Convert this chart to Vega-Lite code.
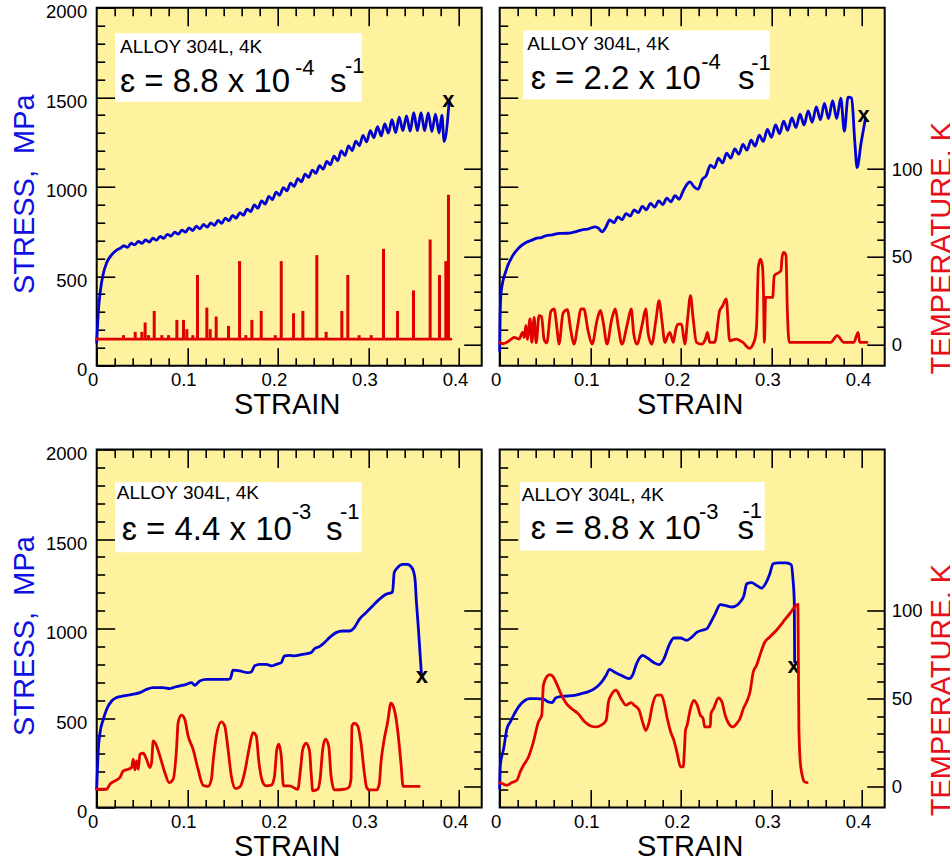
{
  "$schema": "https://vega.github.io/schema/vega-lite/v6.json",
  "autosize": {"type": "none"},
  "padding": {"left": 96.7, "top": 7.7, "right": 853.3, "bottom": 855.3},
  "background": "white",
  "config": {
    "font": "Liberation Sans",
    "view": {"fill": "#fef29e", "stroke": "black", "strokeWidth": 2},
    "axis": {"grid": false, "domain": false, "ticks": true, "tickColor": "black", "tickWidth": 1.6, "labelFont": "Liberation Sans", "labelFontSize": 18.5, "labelColor": "black", "labelFlush": false, "labelOverlap": false, "titleFont": "Liberation Sans", "titleFontSize": 29, "titleFontWeight": "normal", "titleColor": "black"},
    "line": {"strokeWidth": 2.8, "strokeJoin": "round", "strokeCap": "round", "interpolate": "monotone"},
    "text": {"font": "Liberation Sans"}
  },
  "columns": 2,
  "spacing": {"row": 22.8, "column": 5},
  "align": "each",
  "datasets": {
    "sA": [{"s":0,"v":130},{"s":0.002,"v":315},{"s":0.004,"v":417},{"s":0.0075,"v":519},{"s":0.011,"v":575},{"s":0.0167,"v":621},{"s":0.022,"v":646},{"s":0.026,"v":656},{"s":0.030,"v":670},{"s":0.034,"v":661},{"s":0.038,"v":684},{"s":0.042,"v":675},{"s":0.046,"v":695},{"s":0.050,"v":683},{"s":0.054,"v":703},{"s":0.058,"v":691},{"s":0.062,"v":712},{"s":0.066,"v":701},{"s":0.070,"v":722},{"s":0.074,"v":712},{"s":0.078,"v":734},{"s":0.082,"v":724},{"s":0.086,"v":746},{"s":0.090,"v":735},{"s":0.094,"v":757},{"s":0.098,"v":747},{"s":0.102,"v":770},{"s":0.106,"v":755},{"s":0.110,"v":779},{"s":0.114,"v":764},{"s":0.118,"v":789},{"s":0.122,"v":774},{"s":0.126,"v":798},{"s":0.130,"v":784},{"s":0.134,"v":812},{"s":0.138,"v":795},{"s":0.142,"v":825},{"s":0.146,"v":809},{"s":0.150,"v":840},{"s":0.154,"v":824},{"s":0.158,"v":855},{"s":0.162,"v":841},{"s":0.166,"v":875},{"s":0.170,"v":861},{"s":0.174,"v":898},{"s":0.178,"v":880},{"s":0.182,"v":921},{"s":0.186,"v":903},{"s":0.190,"v":946},{"s":0.194,"v":928},{"s":0.198,"v":970},{"s":0.202,"v":952},{"s":0.206,"v":995},{"s":0.210,"v":977},{"s":0.214,"v":1020},{"s":0.218,"v":1002},{"s":0.222,"v":1045},{"s":0.226,"v":1027},{"s":0.230,"v":1070},{"s":0.234,"v":1052},{"s":0.238,"v":1093},{"s":0.242,"v":1075},{"s":0.246,"v":1117},{"s":0.250,"v":1098},{"s":0.254,"v":1141},{"s":0.258,"v":1123},{"s":0.262,"v":1171},{"s":0.266,"v":1145},{"s":0.270,"v":1200},{"s":0.274,"v":1174},{"s":0.278,"v":1228},{"s":0.282,"v":1202},{"s":0.286,"v":1255},{"s":0.290,"v":1229},{"s":0.294,"v":1287},{"s":0.298,"v":1250},{"s":0.302,"v":1313},{"s":0.306,"v":1274},{"s":0.310,"v":1336},{"s":0.314,"v":1284},{"s":0.318,"v":1351},{"s":0.322,"v":1299},{"s":0.326,"v":1375},{"s":0.330,"v":1302},{"s":0.334,"v":1388},{"s":0.338,"v":1313},{"s":0.342,"v":1396},{"s":0.346,"v":1310},{"s":0.350,"v":1413},{"s":0.354,"v":1313},{"s":0.358,"v":1413},{"s":0.362,"v":1313},{"s":0.366,"v":1412},{"s":0.370,"v":1308},{"s":0.374,"v":1405},{"s":0.378,"v":1300},{"s":0.381,"v":1400},{"s":0.3836,"v":1252},{"s":0.3892,"v":1484}],
    "tA": [{"s":0,"v":3.1},{"s":0.3909,"v":3.1}],
    "kA": [{"s":0.0296,"v":5.4},{"s":0.0425,"v":7.3},{"s":0.0499,"v":7.3},{"s":0.0535,"v":12.6},{"s":0.0572,"v":5.4},{"s":0.0635,"v":19.2},{"s":0.0719,"v":5.4},{"s":0.0793,"v":5.4},{"s":0.0885,"v":14.1},{"s":0.0958,"v":14.1},{"s":0.0995,"v":8.8},{"s":0.1061,"v":5.4},{"s":0.1113,"v":39.7},{"s":0.1216,"v":21.1},{"s":0.1253,"v":8.8},{"s":0.1319,"v":16.0},{"s":0.1455,"v":10.7},{"s":0.1577,"v":47.6},{"s":0.1646,"v":5.4},{"s":0.1713,"v":14.1},{"s":0.1816,"v":19.2},{"s":0.1971,"v":5.4},{"s":0.2037,"v":47.6},{"s":0.2173,"v":17.9},{"s":0.2276,"v":19.2},{"s":0.2430,"v":51.0},{"s":0.2533,"v":7.3},{"s":0.2706,"v":19.2},{"s":0.2772,"v":39.7},{"s":0.2897,"v":5.4},{"s":0.3030,"v":5.4},{"s":0.3166,"v":54.6},{"s":0.3321,"v":19.2},{"s":0.3497,"v":30.9},{"s":0.3681,"v":59.9},{"s":0.3784,"v":39.7},{"s":0.3854,"v":47.6},{"s":0.3883,"v":85.4}],
    "sB": [{"s":0,"v":84},{"s":0.0004,"v":260},{"s":0.0015,"v":409},{"s":0.0069,"v":530},{"s":0.0143,"v":614},{"s":0.0216,"v":660},{"s":0.029,"v":688},{"s":0.035,"v":700},{"s":0.040,"v":711},{"s":0.046,"v":716},{"s":0.051,"v":726},{"s":0.058,"v":731},{"s":0.066,"v":739},{"s":0.073,"v":740},{"s":0.080,"v":744},{"s":0.086,"v":752},{"s":0.091,"v":759},{"s":0.097,"v":763},{"s":0.1057,"v":776},{"s":0.109,"v":768},{"s":0.113,"v":748},{"s":0.117,"v":772},{"s":0.1215,"v":814},{"s":0.126,"v":799},{"s":0.1305,"v":831},{"s":0.135,"v":816},{"s":0.1395,"v":850},{"s":0.144,"v":836},{"s":0.1485,"v":870},{"s":0.153,"v":855},{"s":0.1575,"v":890},{"s":0.162,"v":871},{"s":0.1665,"v":907},{"s":0.171,"v":886},{"s":0.1755,"v":921},{"s":0.180,"v":900},{"s":0.1845,"v":936},{"s":0.189,"v":915},{"s":0.1935,"v":950},{"s":0.198,"v":930},{"s":0.2025,"v":976},{"s":0.207,"v":1015},{"s":0.2099,"v":1027},{"s":0.2145,"v":1000},{"s":0.219,"v":986},{"s":0.2235,"v":1040},{"s":0.228,"v":1062},{"s":0.2325,"v":1120},{"s":0.237,"v":1106},{"s":0.2415,"v":1159},{"s":0.246,"v":1133},{"s":0.2505,"v":1187},{"s":0.255,"v":1160},{"s":0.2595,"v":1211},{"s":0.264,"v":1182},{"s":0.2685,"v":1236},{"s":0.273,"v":1204},{"s":0.2775,"v":1260},{"s":0.282,"v":1227},{"s":0.2865,"v":1288},{"s":0.291,"v":1253},{"s":0.2955,"v":1320},{"s":0.300,"v":1276},{"s":0.3045,"v":1345},{"s":0.309,"v":1297},{"s":0.3135,"v":1366},{"s":0.318,"v":1315},{"s":0.3225,"v":1385},{"s":0.327,"v":1330},{"s":0.3315,"v":1405},{"s":0.336,"v":1345},{"s":0.3405,"v":1424},{"s":0.345,"v":1360},{"s":0.3495,"v":1446},{"s":0.354,"v":1374},{"s":0.3585,"v":1465},{"s":0.363,"v":1380},{"s":0.3675,"v":1481},{"s":0.372,"v":1380},{"s":0.3765,"v":1495},{"s":0.3805,"v":1310},{"s":0.3845,"v":1500},{"s":0.3885,"v":1495},{"s":0.392,"v":1250},{"s":0.3945,"v":1107},{"s":0.399,"v":1247},{"s":0.4036,"v":1377}],
    "tB": [{"s":0,"v":1.3},{"s":0.0033,"v":0.5},{"s":0.0106,"v":2.2},{"s":0.0161,"v":4.1},{"s":0.0216,"v":3.2},{"s":0.0252,"v":7.0},{"s":0.0271,"v":4.1},{"s":0.0289,"v":11},{"s":0.0305,"v":3},{"s":0.0335,"v":14.6},{"s":0.0355,"v":1.3},{"s":0.038,"v":15.5},{"s":0.0402,"v":1.0},{"s":0.0435,"v":16.5},{"s":0.0462,"v":16},{"s":0.049,"v":3},{"s":0.052,"v":1.0},{"s":0.0565,"v":19},{"s":0.06,"v":20.3},{"s":0.0635,"v":8},{"s":0.0654,"v":0.3},{"s":0.070,"v":18},{"s":0.0746,"v":20},{"s":0.0785,"v":8},{"s":0.0819,"v":0.3},{"s":0.0865,"v":12},{"s":0.0895,"v":20.3},{"s":0.0929,"v":20.3},{"s":0.0975,"v":8},{"s":0.102,"v":0.3},{"s":0.1075,"v":14},{"s":0.1112,"v":19.5},{"s":0.1145,"v":12},{"s":0.1185,"v":0.3},{"s":0.1235,"v":14},{"s":0.1276,"v":20.3},{"s":0.131,"v":10},{"s":0.1349,"v":0.3},{"s":0.141,"v":12},{"s":0.1452,"v":20.3},{"s":0.148,"v":6},{"s":0.1514,"v":0.3},{"s":0.1575,"v":12},{"s":0.1612,"v":20.3},{"s":0.164,"v":6},{"s":0.1678,"v":0.3},{"s":0.1725,"v":14},{"s":0.1759,"v":25},{"s":0.179,"v":14},{"s":0.1824,"v":1.3},{"s":0.1855,"v":5},{"s":0.1879,"v":7.0},{"s":0.1916,"v":1.3},{"s":0.1945,"v":9},{"s":0.1971,"v":11.7},{"s":0.2007,"v":11.7},{"s":0.2044,"v":0.3},{"s":0.2075,"v":15},{"s":0.2106,"v":27.9},{"s":0.2135,"v":15},{"s":0.2172,"v":1.3},{"s":0.2227,"v":0.3},{"s":0.227,"v":3},{"s":0.2293,"v":7.0},{"s":0.2318,"v":1.3},{"s":0.2373,"v":1.3},{"s":0.2428,"v":19.3},{"s":0.246,"v":22},{"s":0.2501,"v":26},{"s":0.2538,"v":2.2},{"s":0.2611,"v":3.2},{"s":0.2684,"v":1.3},{"s":0.2757,"v":-2.1},{"s":0.2812,"v":2.2},{"s":0.2835,"v":10},{"s":0.2855,"v":44},{"s":0.2878,"v":48.7},{"s":0.290,"v":45},{"s":0.2912,"v":30},{"s":0.2922,"v":1.3},{"s":0.2935,"v":26.9},{"s":0.3013,"v":26.9},{"s":0.3031,"v":39.2},{"s":0.3104,"v":42.1},{"s":0.3118,"v":50},{"s":0.3135,"v":52.5},{"s":0.316,"v":51},{"s":0.3175,"v":20},{"s":0.3196,"v":1.3},{"s":0.3653,"v":1.3},{"s":0.3726,"v":5.1},{"s":0.3799,"v":1.3},{"s":0.3909,"v":1.3},{"s":0.3956,"v":7.0},{"s":0.3974,"v":1.3},{"s":0.4055,"v":1.3}],
    "sC": [{"s":0,"v":102},{"s":0.0018,"v":326},{"s":0.0037,"v":419},{"s":0.0073,"v":493},{"s":0.011,"v":549},{"s":0.0165,"v":595},{"s":0.022,"v":614},{"s":0.0294,"v":623},{"s":0.0404,"v":633},{"s":0.0477,"v":642},{"s":0.055,"v":660},{"s":0.0624,"v":670},{"s":0.0734,"v":670},{"s":0.0807,"v":664},{"s":0.0844,"v":670},{"s":0.0917,"v":679},{"s":0.0991,"v":688},{"s":0.1046,"v":698},{"s":0.1083,"v":683},{"s":0.1138,"v":707},{"s":0.1211,"v":716},{"s":0.145,"v":716},{"s":0.1475,"v":720},{"s":0.1505,"v":768},{"s":0.1578,"v":763},{"s":0.167,"v":753},{"s":0.1706,"v":757},{"s":0.1743,"v":791},{"s":0.1798,"v":800},{"s":0.1872,"v":800},{"s":0.1927,"v":791},{"s":0.1982,"v":800},{"s":0.2037,"v":809},{"s":0.2073,"v":847},{"s":0.2128,"v":850},{"s":0.2183,"v":847},{"s":0.2257,"v":854},{"s":0.2367,"v":865},{"s":0.2404,"v":887},{"s":0.2459,"v":899},{"s":0.2514,"v":921},{"s":0.2569,"v":949},{"s":0.2642,"v":977},{"s":0.2716,"v":986},{"s":0.2789,"v":986},{"s":0.2844,"v":1005},{"s":0.2899,"v":1051},{"s":0.2972,"v":1088},{"s":0.3046,"v":1126},{"s":0.3119,"v":1163},{"s":0.3193,"v":1191},{"s":0.3266,"v":1204},{"s":0.3284,"v":1312},{"s":0.3321,"v":1340},{"s":0.3376,"v":1358},{"s":0.3431,"v":1358},{"s":0.3479,"v":1340},{"s":0.3512,"v":1284},{"s":0.353,"v":1144},{"s":0.3552,"v":995},{"s":0.3571,"v":847},{"s":0.3585,"v":744}],
    "tC": [{"s":0,"v":-1.6},{"s":0.011,"v":-1.6},{"s":0.0147,"v":1.3},{"s":0.0202,"v":3.2},{"s":0.0257,"v":5.1},{"s":0.0294,"v":8.9},{"s":0.0349,"v":9.8},{"s":0.0385,"v":10.8},{"s":0.0404,"v":15.5},{"s":0.0422,"v":9.4},{"s":0.044,"v":14.6},{"s":0.0459,"v":9.8},{"s":0.0477,"v":18.4},{"s":0.0514,"v":18.9},{"s":0.055,"v":15.5},{"s":0.0587,"v":10.8},{"s":0.0606,"v":13.6},{"s":0.0624,"v":26.0},{"s":0.0653,"v":24.1},{"s":0.0697,"v":17.4},{"s":0.0752,"v":7.9},{"s":0.08,"v":2.2},{"s":0.0844,"v":4.1},{"s":0.0881,"v":21.2},{"s":0.0899,"v":36.4},{"s":0.0936,"v":40.6},{"s":0.0972,"v":38.3},{"s":0.1009,"v":28.8},{"s":0.1064,"v":21.2},{"s":0.1119,"v":9.8},{"s":0.1174,"v":0.7},{"s":0.1229,"v":0.0},{"s":0.1266,"v":4.1},{"s":0.1284,"v":13.6},{"s":0.1321,"v":28.8},{"s":0.1376,"v":36.8},{"s":0.1413,"v":34.5},{"s":0.145,"v":21.2},{"s":0.1486,"v":6.0},{"s":0.1534,"v":-1.2},{"s":0.1585,"v":0.0},{"s":0.1633,"v":7.9},{"s":0.1681,"v":21.2},{"s":0.1725,"v":30.7},{"s":0.1761,"v":28.8},{"s":0.1791,"v":13.6},{"s":0.1835,"v":2.2},{"s":0.1872,"v":0.3},{"s":0.1927,"v":0.7},{"s":0.1963,"v":6.0},{"s":0.1989,"v":21.2},{"s":0.2011,"v":24.1},{"s":0.2037,"v":17.4},{"s":0.2062,"v":0.3},{"s":0.2128,"v":0.3},{"s":0.222,"v":-1.6},{"s":0.225,"v":9.8},{"s":0.2275,"v":21.2},{"s":0.2312,"v":24.6},{"s":0.2349,"v":20.3},{"s":0.2367,"v":7.9},{"s":0.2385,"v":-2.5},{"s":0.244,"v":-1.6},{"s":0.2466,"v":4.1},{"s":0.2495,"v":21.2},{"s":0.2525,"v":26.9},{"s":0.2561,"v":23.1},{"s":0.2587,"v":6.0},{"s":0.2624,"v":-2.0},{"s":0.2734,"v":-1.6},{"s":0.2782,"v":-0.6},{"s":0.2807,"v":4.1},{"s":0.2818,"v":34.5},{"s":0.2844,"v":36.0},{"s":0.2881,"v":34.5},{"s":0.2917,"v":25.0},{"s":0.2954,"v":7.9},{"s":0.298,"v":-0.6},{"s":0.3009,"v":-2.0},{"s":0.309,"v":-2.0},{"s":0.3119,"v":1.3},{"s":0.3138,"v":13.6},{"s":0.3174,"v":26.9},{"s":0.3211,"v":36.4},{"s":0.3248,"v":47.4},{"s":0.3284,"v":44.0},{"s":0.3321,"v":32.6},{"s":0.3358,"v":13.6},{"s":0.3383,"v":0.0},{"s":0.356,"v":0.0}],
    "sD": [{"s":0,"v":106},{"s":0.0007,"v":236},{"s":0.0044,"v":329},{"s":0.008,"v":441},{"s":0.0117,"v":478},{"s":0.0153,"v":515},{"s":0.0208,"v":562},{"s":0.0281,"v":599},{"s":0.0336,"v":608},{"s":0.0409,"v":608},{"s":0.0482,"v":605},{"s":0.0536,"v":590},{"s":0.058,"v":586},{"s":0.0617,"v":612},{"s":0.0682,"v":621},{"s":0.0755,"v":623},{"s":0.0828,"v":627},{"s":0.0901,"v":636},{"s":0.0974,"v":646},{"s":0.1047,"v":664},{"s":0.112,"v":698},{"s":0.1175,"v":739},{"s":0.1212,"v":772},{"s":0.1266,"v":757},{"s":0.1339,"v":739},{"s":0.1431,"v":720},{"s":0.1467,"v":739},{"s":0.1504,"v":794},{"s":0.154,"v":832},{"s":0.1577,"v":850},{"s":0.1631,"v":835},{"s":0.1704,"v":809},{"s":0.1759,"v":798},{"s":0.1814,"v":832},{"s":0.1869,"v":906},{"s":0.1923,"v":947},{"s":0.1996,"v":947},{"s":0.2062,"v":934},{"s":0.2124,"v":953},{"s":0.2179,"v":980},{"s":0.2234,"v":990},{"s":0.2288,"v":999},{"s":0.2332,"v":1036},{"s":0.238,"v":1083},{"s":0.2434,"v":1133},{"s":0.2507,"v":1126},{"s":0.2562,"v":1120},{"s":0.2617,"v":1129},{"s":0.2661,"v":1152},{"s":0.2697,"v":1185},{"s":0.2726,"v":1250},{"s":0.2781,"v":1256},{"s":0.2836,"v":1241},{"s":0.2891,"v":1226},{"s":0.2945,"v":1260},{"s":0.2982,"v":1306},{"s":0.3018,"v":1362},{"s":0.3073,"v":1367},{"s":0.3164,"v":1367},{"s":0.3219,"v":1356},{"s":0.3237,"v":1278},{"s":0.3252,"v":1148},{"s":0.3256,"v":813}],
    "tD": [{"s":0,"v":2.2},{"s":0.0026,"v":1.7},{"s":0.008,"v":0.7},{"s":0.0135,"v":2.2},{"s":0.019,"v":3.6},{"s":0.0226,"v":8.3},{"s":0.0263,"v":12.1},{"s":0.0318,"v":16.8},{"s":0.0372,"v":25.4},{"s":0.0427,"v":36.8},{"s":0.0464,"v":40.6},{"s":0.0482,"v":57.6},{"s":0.0518,"v":62.4},{"s":0.0555,"v":63.7},{"s":0.0591,"v":62.4},{"s":0.0628,"v":58.6},{"s":0.0682,"v":52.0},{"s":0.0737,"v":47.2},{"s":0.0792,"v":44.4},{"s":0.0865,"v":41.5},{"s":0.0938,"v":36.8},{"s":0.1011,"v":34.3},{"s":0.1066,"v":33.9},{"s":0.112,"v":34.9},{"s":0.1175,"v":37.7},{"s":0.1201,"v":48.2},{"s":0.123,"v":52.0},{"s":0.1285,"v":54.8},{"s":0.1339,"v":50.1},{"s":0.1394,"v":46.3},{"s":0.1449,"v":47.8},{"s":0.1485,"v":46.3},{"s":0.154,"v":43.4},{"s":0.1577,"v":36.8},{"s":0.1613,"v":32.0},{"s":0.165,"v":36.8},{"s":0.1686,"v":46.3},{"s":0.1734,"v":52.0},{"s":0.1785,"v":52.0},{"s":0.1821,"v":46.3},{"s":0.185,"v":38.7},{"s":0.1887,"v":31.1},{"s":0.1923,"v":26.3},{"s":0.196,"v":18.7},{"s":0.1996,"v":11.2},{"s":0.2026,"v":11.2},{"s":0.204,"v":21.6},{"s":0.2051,"v":32.0},{"s":0.2069,"v":34.9},{"s":0.2106,"v":44.4},{"s":0.2142,"v":49.1},{"s":0.2179,"v":46.6},{"s":0.2215,"v":40.6},{"s":0.2245,"v":38.7},{"s":0.2263,"v":33.9},{"s":0.2325,"v":33.9},{"s":0.2332,"v":41.5},{"s":0.2361,"v":44.4},{"s":0.2416,"v":50.4},{"s":0.2453,"v":48.2},{"s":0.2489,"v":40.6},{"s":0.2526,"v":36.0},{"s":0.2573,"v":33.9},{"s":0.2617,"v":35.9},{"s":0.2653,"v":38.7},{"s":0.269,"v":44.4},{"s":0.2726,"v":48.2},{"s":0.2763,"v":53.8},{"s":0.2799,"v":65.2},{"s":0.2836,"v":69.0},{"s":0.2872,"v":74.7},{"s":0.2927,"v":82.3},{"s":0.2982,"v":85.2},{"s":0.3055,"v":89.0},{"s":0.3128,"v":93.7},{"s":0.3201,"v":98.4},{"s":0.3292,"v":103.8},{"s":0.3297,"v":70.9},{"s":0.3303,"v":33.0},{"s":0.3318,"v":14.0},{"s":0.3339,"v":6.4},{"s":0.3365,"v":2.6},{"s":0.3394,"v":2.2}]
  },
  "concat": [
    {
      "width": 385, "height": 358,
      "resolve": {"scale": {"y": "independent"}, "axis": {"x": "independent", "y": "independent"}},
      "layer": [
        {
          "resolve": {"axis": {"x": "independent", "y": "independent"}},
          "layer": [
            {"data": {"name": "sA"}, "mark": {"type": "line", "color": "#0000d4"},
             "encoding": {
               "x": {"field": "s", "type": "quantitative", "scale": {"domain": [0, 0.425], "nice": false, "zero": false}, "axis": {"orient": "bottom", "values": [0, 0.1, 0.2, 0.3, 0.4], "format": "~g", "tickSize": -18, "labelPadding": 23, "labelOffset": -4, "title": "STRAIN", "titlePadding": 1, "titleX": 190}},
               "y": {"field": "v", "type": "quantitative", "scale": {"domain": [0, 2000], "nice": false, "zero": false}, "axis": {"orient": "left", "values": [0, 500, 1000, 1500, 2000], "format": "d", "tickSize": -18, "labelPadding": 28, "labelOffset": 4, "title": "STRESS,\u00a0 MPa", "titleColor": "#1010e0", "titlePadding": 6, "titleY": 186}}}},
            {"data": {"values": [{}]}, "mark": {"type": "rect", "fill": "white"},
             "encoding": {
               "x": {"datum": 0.0202, "type": "quantitative", "scale": {"domain": [0, 0.425], "nice": false, "zero": false}, "axis": {"orient": "bottom", "values": [0.02, 0.04, 0.06, 0.08, 0.12, 0.14, 0.16, 0.18, 0.22, 0.24, 0.26, 0.28, 0.32, 0.34, 0.36, 0.38], "tickSize": -8, "labels": false, "title": null}},
               "x2": {"datum": 0.2925},
               "y": {"datum": 1857, "type": "quantitative", "scale": {"domain": [0, 2000], "nice": false, "zero": false}, "axis": {"orient": "left", "values": [100, 200, 300, 400, 600, 700, 800, 900, 1100, 1200, 1300, 1400, 1600, 1700, 1800, 1900], "tickSize": -8, "labels": false, "title": null}},
               "y2": {"datum": 1475}}},
            {"data": {"values": [{}]}, "mark": {"type": "text", "text": "ALLOY 304L, 4K", "fontSize": 19, "align": "left", "baseline": "alphabetic", "color": "black"},
             "encoding": {"x": {"datum": 0.0257, "type": "quantitative", "axis": null}, "y": {"datum": 1745, "type": "quantitative", "axis": null}}},
            {"data": {"values": [{}]}, "mark": {"type": "text", "text": "\u025b = 8.8 x 10", "fontSize": 33, "align": "left", "baseline": "alphabetic", "color": "black"},
             "encoding": {"x": {"datum": 0.0257, "type": "quantitative", "axis": null}, "y": {"datum": 1531, "type": "quantitative", "axis": null}}},
            {"data": {"values": [{}]}, "mark": {"type": "text", "text": "-4", "fontSize": 22, "align": "left", "baseline": "alphabetic", "color": "black"},
             "encoding": {"x": {"datum": 0.2189, "type": "quantitative", "axis": null}, "y": {"datum": 1624, "type": "quantitative", "axis": null}}},
            {"data": {"values": [{}]}, "mark": {"type": "text", "text": "s", "fontSize": 33, "align": "left", "baseline": "alphabetic", "color": "black"},
             "encoding": {"x": {"datum": 0.2575, "type": "quantitative", "axis": null}, "y": {"datum": 1531, "type": "quantitative", "axis": null}}},
            {"data": {"values": [{}]}, "mark": {"type": "text", "text": "-1", "fontSize": 22, "align": "left", "baseline": "alphabetic", "color": "black"},
             "encoding": {"x": {"datum": 0.2741, "type": "quantitative", "axis": null}, "y": {"datum": 1635, "type": "quantitative", "axis": null}}},
            {"data": {"values": [{}]}, "mark": {"type": "text", "text": "x", "fontSize": 22, "fontWeight": "bold", "align": "center", "baseline": "middle", "color": "black"},
             "encoding": {"x": {"datum": 0.3883, "type": "quantitative", "axis": null}, "y": {"datum": 1484, "type": "quantitative", "axis": null}}}
          ]
        },
        {
          "resolve": {"axis": {"x": "independent", "y": "independent"}},
          "layer": [
            {"data": {"name": "tA"}, "mark": {"type": "line", "color": "#e00000", "interpolate": "linear"},
             "encoding": {
               "x": {"field": "s", "type": "quantitative", "scale": {"domain": [0, 0.425], "nice": false, "zero": false}, "axis": {"orient": "top", "values": [0.1, 0.2, 0.3, 0.4], "tickSize": -18, "labels": false, "title": null}},
               "y": {"field": "v", "type": "quantitative", "scale": {"domain": [-12, 192], "nice": false, "zero": false}, "axis": {"orient": "right", "values": [0, 50, 100], "tickSize": -18, "labels": false, "title": null}}}},
            {"data": {"name": "tA"}, "mark": {"type": "line", "opacity": 0},
             "encoding": {
               "x": {"field": "s", "type": "quantitative", "axis": {"orient": "top", "values": [0.02, 0.04, 0.06, 0.08, 0.12, 0.14, 0.16, 0.18, 0.22, 0.24, 0.26, 0.28, 0.32, 0.34, 0.36, 0.38], "tickSize": -8, "labels": false, "title": null}},
               "y": {"field": "v", "type": "quantitative", "axis": {"orient": "right", "values": [10, 20, 30, 40, 60, 70, 80, 90], "tickSize": -8, "labels": false, "title": null}}}},
            {"data": {"name": "kA"}, "mark": {"type": "rule", "color": "#e00000", "strokeWidth": 3},
             "encoding": {
               "x": {"field": "s", "type": "quantitative", "axis": null},
               "y": {"field": "v", "type": "quantitative", "axis": null},
               "y2": {"datum": 3.1}}}
          ]
        }
      ]
    },
    {
      "width": 385, "height": 358,
      "resolve": {"scale": {"y": "independent"}, "axis": {"x": "independent", "y": "independent"}},
      "layer": [
        {
          "resolve": {"axis": {"x": "independent", "y": "independent"}},
          "layer": [
            {"data": {"name": "sB"}, "mark": {"type": "line", "color": "#0000d4"},
             "encoding": {
               "x": {"field": "s", "type": "quantitative", "scale": {"domain": [0, 0.425], "nice": false, "zero": false}, "axis": {"orient": "bottom", "values": [0, 0.1, 0.2, 0.3, 0.4], "format": "~g", "tickSize": -18, "labelPadding": 23, "labelOffset": -4, "title": "STRAIN", "titlePadding": 1, "titleX": 190}},
               "y": {"field": "v", "type": "quantitative", "scale": {"domain": [0, 2000], "nice": false, "zero": false}, "axis": {"orient": "left", "values": [500, 1000, 1500], "tickSize": -18, "labels": false, "title": null}}}},
            {"data": {"values": [{}]}, "mark": {"type": "rect", "fill": "white"},
             "encoding": {
               "x": {"datum": 0.0257, "type": "quantitative", "scale": {"domain": [0, 0.425], "nice": false, "zero": false}, "axis": {"orient": "bottom", "values": [0.02, 0.04, 0.06, 0.08, 0.12, 0.14, 0.16, 0.18, 0.22, 0.24, 0.26, 0.28, 0.32, 0.34, 0.36, 0.38], "tickSize": -8, "labels": false, "title": null}},
               "x2": {"datum": 0.298},
               "y": {"datum": 1873, "type": "quantitative", "scale": {"domain": [0, 2000], "nice": false, "zero": false}, "axis": {"orient": "left", "values": [100, 200, 300, 400, 600, 700, 800, 900, 1100, 1200, 1300, 1400, 1600, 1700, 1800, 1900], "tickSize": -8, "labels": false, "title": null}},
               "y2": {"datum": 1488}}},
            {"data": {"values": [{}]}, "mark": {"type": "text", "text": "ALLOY 304L, 4K", "fontSize": 19, "align": "left", "baseline": "alphabetic", "color": "black"},
             "encoding": {"x": {"datum": 0.0305, "type": "quantitative", "axis": null}, "y": {"datum": 1761, "type": "quantitative", "axis": null}}},
            {"data": {"values": [{}]}, "mark": {"type": "text", "text": "\u025b = 2.2 x 10", "fontSize": 33, "align": "left", "baseline": "alphabetic", "color": "black"},
             "encoding": {"x": {"datum": 0.0342, "type": "quantitative", "axis": null}, "y": {"datum": 1544, "type": "quantitative", "axis": null}}},
            {"data": {"values": [{}]}, "mark": {"type": "text", "text": "-4", "fontSize": 22, "align": "left", "baseline": "alphabetic", "color": "black"},
             "encoding": {"x": {"datum": 0.2225, "type": "quantitative", "axis": null}, "y": {"datum": 1655, "type": "quantitative", "axis": null}}},
            {"data": {"values": [{}]}, "mark": {"type": "text", "text": "s", "fontSize": 33, "align": "left", "baseline": "alphabetic", "color": "black"},
             "encoding": {"x": {"datum": 0.2631, "type": "quantitative", "axis": null}, "y": {"datum": 1544, "type": "quantitative", "axis": null}}},
            {"data": {"values": [{}]}, "mark": {"type": "text", "text": "-1", "fontSize": 22, "align": "left", "baseline": "alphabetic", "color": "black"},
             "encoding": {"x": {"datum": 0.2777, "type": "quantitative", "axis": null}, "y": {"datum": 1650, "type": "quantitative", "axis": null}}},
            {"data": {"values": [{}]}, "mark": {"type": "text", "text": "x", "fontSize": 22, "fontWeight": "bold", "align": "center", "baseline": "middle", "color": "black"},
             "encoding": {"x": {"datum": 0.4018, "type": "quantitative", "axis": null}, "y": {"datum": 1399, "type": "quantitative", "axis": null}}}
          ]
        },
        {
          "resolve": {"axis": {"x": "independent", "y": "independent"}},
          "layer": [
            {"data": {"name": "tB"}, "mark": {"type": "line", "color": "#e00000"},
             "encoding": {
               "x": {"field": "s", "type": "quantitative", "scale": {"domain": [0, 0.425], "nice": false, "zero": false}, "axis": {"orient": "top", "values": [0.1, 0.2, 0.3, 0.4], "tickSize": -18, "labels": false, "title": null}},
               "y": {"field": "v", "type": "quantitative", "scale": {"domain": [-12, 192], "nice": false, "zero": false}, "axis": {"orient": "right", "values": [0, 50, 100], "format": "d", "tickSize": -18, "labelPadding": 24.5, "title": "TEMPERATURE, K", "titleColor": "#e8101a", "titleAngle": 270, "titleBaseline": "top", "titlePadding": 5, "titleY": 240}}}},
            {"data": {"name": "tB"}, "mark": {"type": "line", "opacity": 0},
             "encoding": {
               "x": {"field": "s", "type": "quantitative", "axis": {"orient": "top", "values": [0.02, 0.04, 0.06, 0.08, 0.12, 0.14, 0.16, 0.18, 0.22, 0.24, 0.26, 0.28, 0.32, 0.34, 0.36, 0.38], "tickSize": -8, "labels": false, "title": null}},
               "y": {"field": "v", "type": "quantitative", "axis": {"orient": "right", "values": [10, 20, 30, 40, 60, 70, 80, 90], "tickSize": -8, "labels": false, "title": null}}}}
          ]
        }
      ]
    },
    {
      "width": 385, "height": 358,
      "resolve": {"scale": {"y": "independent"}, "axis": {"x": "independent", "y": "independent"}},
      "layer": [
        {
          "resolve": {"axis": {"x": "independent", "y": "independent"}},
          "layer": [
            {"data": {"name": "sC"}, "mark": {"type": "line", "color": "#0000d4"},
             "encoding": {
               "x": {"field": "s", "type": "quantitative", "scale": {"domain": [0, 0.425], "nice": false, "zero": false}, "axis": {"orient": "bottom", "values": [0, 0.1, 0.2, 0.3, 0.4], "format": "~g", "tickSize": -18, "labelPadding": 23, "labelOffset": -4, "title": "STRAIN", "titlePadding": 1, "titleX": 190}},
               "y": {"field": "v", "type": "quantitative", "scale": {"domain": [0, 2000], "nice": false, "zero": false}, "axis": {"orient": "left", "values": [0, 500, 1000, 1500, 2000], "format": "d", "tickSize": -18, "labelPadding": 28, "labelOffset": 4, "title": "STRESS,\u00a0 MPa", "titleColor": "#1010e0", "titlePadding": 6, "titleY": 186}}}},
            {"data": {"values": [{}]}, "mark": {"type": "rect", "fill": "white"},
             "encoding": {
               "x": {"datum": 0.0202, "type": "quantitative", "scale": {"domain": [0, 0.425], "nice": false, "zero": false}, "axis": {"orient": "bottom", "values": [0.02, 0.04, 0.06, 0.08, 0.12, 0.14, 0.16, 0.18, 0.22, 0.24, 0.26, 0.28, 0.32, 0.34, 0.36, 0.38], "tickSize": -8, "labels": false, "title": null}},
               "x2": {"datum": 0.2925},
               "y": {"datum": 1817, "type": "quantitative", "scale": {"domain": [0, 2000], "nice": false, "zero": false}, "axis": {"orient": "left", "values": [100, 200, 300, 400, 600, 700, 800, 900, 1100, 1200, 1300, 1400, 1600, 1700, 1800, 1900], "tickSize": -8, "labels": false, "title": null}},
               "y2": {"datum": 1426}}},
            {"data": {"values": [{}]}, "mark": {"type": "text", "text": "ALLOY 304L, 4K", "fontSize": 19, "align": "left", "baseline": "alphabetic", "color": "black"},
             "encoding": {"x": {"datum": 0.0221, "type": "quantitative", "axis": null}, "y": {"datum": 1726, "type": "quantitative", "axis": null}}},
            {"data": {"values": [{}]}, "mark": {"type": "text", "text": "\u025b = 4.4 x 10", "fontSize": 33, "align": "left", "baseline": "alphabetic", "color": "black"},
             "encoding": {"x": {"datum": 0.0276, "type": "quantitative", "axis": null}, "y": {"datum": 1497, "type": "quantitative", "axis": null}}},
            {"data": {"values": [{}]}, "mark": {"type": "text", "text": "-3", "fontSize": 22, "align": "left", "baseline": "alphabetic", "color": "black"},
             "encoding": {"x": {"datum": 0.2153, "type": "quantitative", "axis": null}, "y": {"datum": 1609, "type": "quantitative", "axis": null}}},
            {"data": {"values": [{}]}, "mark": {"type": "text", "text": "s", "fontSize": 33, "align": "left", "baseline": "alphabetic", "color": "black"},
             "encoding": {"x": {"datum": 0.2531, "type": "quantitative", "axis": null}, "y": {"datum": 1497, "type": "quantitative", "axis": null}}},
            {"data": {"values": [{}]}, "mark": {"type": "text", "text": "-1", "fontSize": 22, "align": "left", "baseline": "alphabetic", "color": "black"},
             "encoding": {"x": {"datum": 0.2686, "type": "quantitative", "axis": null}, "y": {"datum": 1613, "type": "quantitative", "axis": null}}},
            {"data": {"values": [{}]}, "mark": {"type": "text", "text": "x", "fontSize": 22, "fontWeight": "bold", "align": "center", "baseline": "middle", "color": "black"},
             "encoding": {"x": {"datum": 0.3589, "type": "quantitative", "axis": null}, "y": {"datum": 735, "type": "quantitative", "axis": null}}}
          ]
        },
        {
          "resolve": {"axis": {"x": "independent", "y": "independent"}},
          "layer": [
            {"data": {"name": "tC"}, "mark": {"type": "line", "color": "#e00000"},
             "encoding": {
               "x": {"field": "s", "type": "quantitative", "scale": {"domain": [0, 0.425], "nice": false, "zero": false}, "axis": {"orient": "top", "values": [0.1, 0.2, 0.3, 0.4], "tickSize": -18, "labels": false, "title": null}},
               "y": {"field": "v", "type": "quantitative", "scale": {"domain": [-12, 192], "nice": false, "zero": false}, "axis": {"orient": "right", "values": [0, 50, 100], "tickSize": -18, "labels": false, "title": null}}}},
            {"data": {"name": "tC"}, "mark": {"type": "line", "opacity": 0},
             "encoding": {
               "x": {"field": "s", "type": "quantitative", "axis": {"orient": "top", "values": [0.02, 0.04, 0.06, 0.08, 0.12, 0.14, 0.16, 0.18, 0.22, 0.24, 0.26, 0.28, 0.32, 0.34, 0.36, 0.38], "tickSize": -8, "labels": false, "title": null}},
               "y": {"field": "v", "type": "quantitative", "axis": {"orient": "right", "values": [10, 20, 30, 40, 60, 70, 80, 90], "tickSize": -8, "labels": false, "title": null}}}}
          ]
        }
      ]
    },
    {
      "width": 385, "height": 358,
      "resolve": {"scale": {"y": "independent"}, "axis": {"x": "independent", "y": "independent"}},
      "layer": [
        {
          "resolve": {"axis": {"x": "independent", "y": "independent"}},
          "layer": [
            {"data": {"name": "sD"}, "mark": {"type": "line", "color": "#0000d4"},
             "encoding": {
               "x": {"field": "s", "type": "quantitative", "scale": {"domain": [0, 0.425], "nice": false, "zero": false}, "axis": {"orient": "bottom", "values": [0, 0.1, 0.2, 0.3, 0.4], "format": "~g", "tickSize": -18, "labelPadding": 23, "labelOffset": -4, "title": "STRAIN", "titlePadding": 1, "titleX": 190}},
               "y": {"field": "v", "type": "quantitative", "scale": {"domain": [0, 2000], "nice": false, "zero": false}, "axis": {"orient": "left", "values": [500, 1000, 1500], "tickSize": -18, "labels": false, "title": null}}}},
            {"data": {"values": [{}]}, "mark": {"type": "rect", "fill": "white"},
             "encoding": {
               "x": {"datum": 0.0224, "type": "quantitative", "scale": {"domain": [0, 0.425], "nice": false, "zero": false}, "axis": {"orient": "bottom", "values": [0.02, 0.04, 0.06, 0.08, 0.12, 0.14, 0.16, 0.18, 0.22, 0.24, 0.26, 0.28, 0.32, 0.34, 0.36, 0.38], "tickSize": -8, "labels": false, "title": null}},
               "x2": {"datum": 0.2925},
               "y": {"datum": 1818, "type": "quantitative", "scale": {"domain": [0, 2000], "nice": false, "zero": false}, "axis": {"orient": "left", "values": [100, 200, 300, 400, 600, 700, 800, 900, 1100, 1200, 1300, 1400, 1600, 1700, 1800, 1900], "tickSize": -8, "labels": false, "title": null}},
               "y2": {"datum": 1436}}},
            {"data": {"values": [{}]}, "mark": {"type": "text", "text": "ALLOY 304L, 4K", "fontSize": 19, "align": "left", "baseline": "alphabetic", "color": "black"},
             "encoding": {"x": {"datum": 0.0243, "type": "quantitative", "axis": null}, "y": {"datum": 1715, "type": "quantitative", "axis": null}}},
            {"data": {"values": [{}]}, "mark": {"type": "text", "text": "\u025b = 8.8 x 10", "fontSize": 33, "align": "left", "baseline": "alphabetic", "color": "black"},
             "encoding": {"x": {"datum": 0.0342, "type": "quantitative", "axis": null}, "y": {"datum": 1501, "type": "quantitative", "axis": null}}},
            {"data": {"values": [{}]}, "mark": {"type": "text", "text": "-3", "fontSize": 22, "align": "left", "baseline": "alphabetic", "color": "black"},
             "encoding": {"x": {"datum": 0.22, "type": "quantitative", "axis": null}, "y": {"datum": 1613, "type": "quantitative", "axis": null}}},
            {"data": {"values": [{}]}, "mark": {"type": "text", "text": "s", "fontSize": 33, "align": "left", "baseline": "alphabetic", "color": "black"},
             "encoding": {"x": {"datum": 0.2624, "type": "quantitative", "axis": null}, "y": {"datum": 1501, "type": "quantitative", "axis": null}}},
            {"data": {"values": [{}]}, "mark": {"type": "text", "text": "-1", "fontSize": 22, "align": "left", "baseline": "alphabetic", "color": "black"},
             "encoding": {"x": {"datum": 0.2679, "type": "quantitative", "axis": null}, "y": {"datum": 1615, "type": "quantitative", "axis": null}}},
            {"data": {"values": [{}]}, "mark": {"type": "text", "text": "x", "fontSize": 22, "fontWeight": "bold", "align": "center", "baseline": "middle", "color": "black"},
             "encoding": {"x": {"datum": 0.3245, "type": "quantitative", "axis": null}, "y": {"datum": 791, "type": "quantitative", "axis": null}}}
          ]
        },
        {
          "resolve": {"axis": {"x": "independent", "y": "independent"}},
          "layer": [
            {"data": {"name": "tD"}, "mark": {"type": "line", "color": "#e00000"},
             "encoding": {
               "x": {"field": "s", "type": "quantitative", "scale": {"domain": [0, 0.425], "nice": false, "zero": false}, "axis": {"orient": "top", "values": [0.1, 0.2, 0.3, 0.4], "tickSize": -18, "labels": false, "title": null}},
               "y": {"field": "v", "type": "quantitative", "scale": {"domain": [-12, 192], "nice": false, "zero": false}, "axis": {"orient": "right", "values": [0, 50, 100], "format": "d", "tickSize": -18, "labelPadding": 24.5, "title": "TEMPERATURE, K", "titleColor": "#e8101a", "titleAngle": 270, "titleBaseline": "top", "titlePadding": 5, "titleY": 240}}}},
            {"data": {"name": "tD"}, "mark": {"type": "line", "opacity": 0},
             "encoding": {
               "x": {"field": "s", "type": "quantitative", "axis": {"orient": "top", "values": [0.02, 0.04, 0.06, 0.08, 0.12, 0.14, 0.16, 0.18, 0.22, 0.24, 0.26, 0.28, 0.32, 0.34, 0.36, 0.38], "tickSize": -8, "labels": false, "title": null}},
               "y": {"field": "v", "type": "quantitative", "axis": {"orient": "right", "values": [10, 20, 30, 40, 60, 70, 80, 90], "tickSize": -8, "labels": false, "title": null}}}}
          ]
        }
      ]
    }
  ]
}
